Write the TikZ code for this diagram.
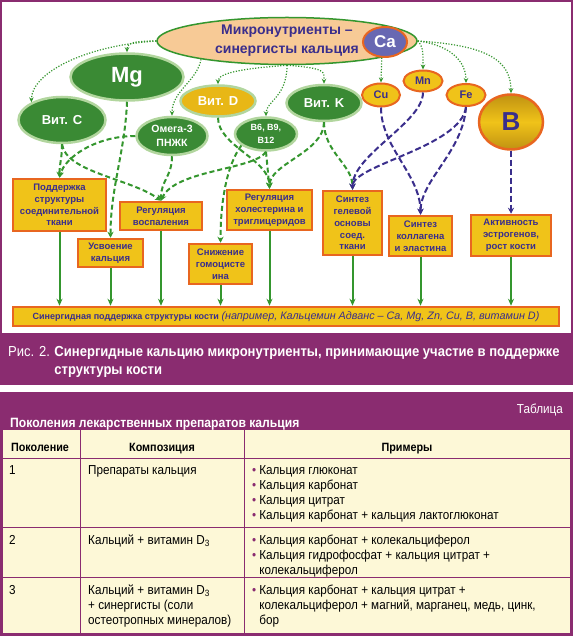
\documentclass[tikz,border=0pt]{standalone}
\usepackage{fontspec}
\setmainfont{Liberation Sans}
\newfontfamily\narrow{Liberation Sans}[FakeStretch=0.9]
\usetikzlibrary{shapes.geometric,arrows.meta}
\definecolor{frame}{RGB}{138,44,112}
\definecolor{ink}{RGB}{58,46,140}
\definecolor{vitgreen}{RGB}{58,138,52}
\definecolor{leaf}{RGB}{178,214,158}
\definecolor{linkgreen}{RGB}{52,150,46}
\definecolor{gold}{RGB}{240,195,25}
\definecolor{golddark}{RGB}{192,146,18}
\definecolor{vitdgold}{RGB}{232,183,22}
\definecolor{rim}{RGB}{232,102,32}
\definecolor{peach}{RGB}{247,202,150}
\definecolor{cablue}{RGB}{104,104,178}
\definecolor{tabbg}{RGB}{253,248,215}
\newcommand{\itm}{\textcolor{frame}{•}\hspace{3pt}}
\newcommand{\itmgap}{\phantom{•}\hspace{3pt}}
\begin{document}
\begin{tikzpicture}[x=1pt,y=-1pt,
	elem/.style={ellipse,draw=leaf,line width=2.5pt,fill=vitgreen,text=white,align=center,inner sep=0pt},
	metal/.style={ellipse,draw=rim,line width=2pt,fill=gold,text=ink,inner sep=0pt,font=\bfseries\fontsize{11}{13}\selectfont},
	effect/.style={rectangle,draw=rim,line width=2.5pt,fill=gold,text=ink,align=center,inner sep=0pt,font=\bfseries\fontsize{9.5}{11.8}\selectfont},
	dotarr/.style={draw=linkgreen,line width=1.2pt,dash pattern=on 1.2pt off 1.6pt,-{Stealth[length=5pt,width=4.5pt]}},
	gdash/.style={draw=linkgreen,line width=2pt,dash pattern=on 5pt off 3pt,-{Stealth[length=6pt,width=6pt]}},
	pdash/.style={draw=ink,line width=2pt,dash pattern=on 6pt off 3pt,-{Stealth[length=6pt,width=6pt]}},
	garr/.style={draw=linkgreen,line width=2pt,-{Stealth[length=7pt,width=6pt]}},
	cell/.style={anchor=base west,align=left,inner sep=0pt,text=black,font=\narrow\fontsize{13}{15}\selectfont},
	head/.style={anchor=base,inner sep=0pt,text=black,font=\narrow\bfseries\fontsize{12}{14}\selectfont}]
\useasboundingbox (0,0) rectangle (573,636);
\fill[frame] (0,0) rectangle (573,636);
\fill[white] (2,2) rectangle (571,333);
\fill[white] (0,385) rectangle (573,392);
\fill[tabbg] (3,430) rectangle (570,633);

\node[ellipse,draw=linkgreen,line width=1.5pt,fill=peach,text=ink,align=center,inner sep=0pt,
	font=\bfseries\fontsize{14}{19}\selectfont,minimum width=260,minimum height=47] (micro) at (287,41) {Микронутриенты –\\синергисты кальция};
\node[ellipse,draw=rim,line width=2pt,fill=cablue,text=white,inner sep=0pt,
	font=\bfseries\fontsize{17}{17}\selectfont,minimum width=44,minimum height=30] (ca) at (385,42) {Ca};
\node[elem,font=\bfseries\fontsize{22}{22}\selectfont,minimum width=113,minimum height=47] (mg) at (127,77) {Mg};
\node[elem,font=\bfseries\fontsize{13}{13}\selectfont,minimum width=87,minimum height=46] (vitc) at (62,120) {Вит. C};
\node[elem,font=\bfseries\fontsize{10.5}{14}\selectfont,minimum width=71,minimum height=38] (omega) at (172,136) {Омега-3\\ПНЖК};
\node[elem,fill=vitdgold,font=\bfseries\fontsize{13}{13}\selectfont,minimum width=75,minimum height=31] (vitd) at (218,101) {Вит. D};
\node[elem,font=\bfseries\fontsize{9}{13}\selectfont,minimum width=62,minimum height=33] (bvit) at (266,134) {B6, B9,\\B12};
\node[elem,font=\bfseries\fontsize{13}{13}\selectfont,minimum width=75,minimum height=36] (vitk) at (324,103) {Вит. K};
\node[metal,minimum width=38,minimum height=23] (cu) at (381,95) {Cu};
\node[metal,minimum width=39,minimum height=21] (mn) at (423,81) {Mn};
\node[metal,minimum width=39,minimum height=22] (fe) at (466,95) {Fe};
\node[metal,line width=2.5pt,top color=golddark,bottom color=golddark,middle color=gold,
	font=\bfseries\fontsize{26}{26}\selectfont,minimum width=64,minimum height=55] (boron) at (511,122) {B};

\node[effect,minimum width=93,minimum height=52] (tissue) at (59.5,205) {Поддержка\\структуры\\соединительной\\ткани};
\node[effect,minimum width=65,minimum height=28] (absorb) at (110.5,253) {Усвоение\\кальция};
\node[effect,minimum width=82,minimum height=28] (inflam) at (161,216) {Регуляция\\воспаления};
\node[effect,minimum width=63,minimum height=40] (homocys) at (220.5,264) {Снижение\\гомоцисте\\ина};
\node[effect,minimum width=85,minimum height=40] (chol) at (269.5,210) {Регуляция\\холестерина и\\триглицеридов};
\node[effect,minimum width=59,minimum height=64] (gel) at (352.5,223) {Синтез\\гелевой\\основы\\соед.\\ткани};
\node[effect,minimum width=63,minimum height=40] (collagen) at (420.5,236) {Синтез\\коллагена\\и эластина};
\node[effect,minimum width=80,minimum height=41] (estro) at (511,235.5) {Активность\\эстрогенов,\\рост кости};
\node[effect,font=\bfseries\fontsize{9}{11}\selectfont,minimum width=546,minimum height=19] (bone) at (286,316.5)
	{Синергидная поддержка структуры кости {\mdseries\itshape\fontsize{10.8}{11}\selectfont (например, Кальцемин Адванс – Ca, Mg, Zn, Cu, B, витамин D)}};

\draw[dotarr] (micro.west) .. controls +(-20,0) and +(0,-10) .. (mg.north);
\draw[dotarr] (micro.west) .. controls +(-75,5) and +(0,-28) .. (vitc.150);
\draw[dotarr] (micro.192) .. controls +(-4,22) and +(0,-25) .. (omega.north);
\draw[dotarr] (micro.south) .. controls +(-40,3) and +(0,-12) .. (vitd.north);
\draw[dotarr] (micro.south) .. controls +(40,3) and +(0,-12) .. (vitk.north);
\draw[dotarr] (micro.south) .. controls +(0,32) and +(0,-15) .. (bvit.north);
\draw[dotarr] (micro.350) -- (cu.north);
\draw[dotarr] (micro.east) .. controls +(6,6) and +(0,-14) .. (mn.north);
\draw[dotarr] (micro.east) .. controls +(32,4) and +(0,-22) .. (fe.north);
\draw[dotarr] (micro.east) .. controls +(65,4) and +(0,-35) .. (boron.north);

\draw[gdash] (vitc.south) .. controls +(0,15) and +(0,-15) .. (tissue.north);
\draw[gdash] (vitc.south) .. controls +(4,28) and +(-30,-22) .. (inflam.north);
\draw[gdash] (mg.south) .. controls +(-2,50) and +(0,-50) .. (absorb.north);
\draw[gdash] (omega.west) .. controls +(-40,0) and +(5,-20) .. (tissue.north);
\draw[gdash] (omega.south) .. controls +(0,20) and +(0,-20) .. (inflam.north);
\draw[gdash] (vitd.south) .. controls +(0,28) and +(0,-29) .. (chol.north);
\draw[gdash] (bvit.south) .. controls +(-11,18) and +(14,-31) .. (inflam.north);
\draw[gdash] (bvit.south) -- (chol.north);
\draw[gdash] (bvit.205) .. controls +(-15,20) and +(0,-40) .. (homocys.north);
\draw[gdash] (vitk.south) .. controls +(0,30) and +(0,-25) .. (chol.north);
\draw[gdash] (vitk.south) .. controls +(0,30) and +(0,-25) .. (gel.north);

\draw[pdash] (cu.south) .. controls +(0,40) and +(0,-40) .. (collagen.north);
\draw[pdash] (mn.south) .. controls +(0,30) and +(0,-35) .. (gel.north);
\draw[pdash] (fe.south) .. controls +(-5,40) and +(0,-25) .. (gel.north);
\draw[pdash] (fe.south) .. controls +(-3,45) and +(0,-35) .. (collagen.north);
\draw[pdash] (boron.south) -- (estro.north);

\foreach \b in {tissue,absorb,inflam,homocys,chol,gel,collagen,estro}
{
	\draw[garr] (\b.south) -- (\b.south |- bone.north);
}

\node[anchor=base west,inner sep=0pt,text=white,font=\narrow\fontsize{14.5}{18}\selectfont] (capnum) at (8,356) {Рис. 2.};
\node[anchor=base west,align=left,inner sep=0pt,text=white,font=\narrow\bfseries\fontsize{14.5}{18}\selectfont] (captext) at ([xshift=4pt,yshift=-18pt]capnum.base east)
	{Синергидные кальцию микронутриенты, принимающие участие в поддержке\\структуры кости};

\node[anchor=base east,inner sep=0pt,text=white,font=\narrow\fontsize{13}{15}\selectfont] (tabtag) at (563,413) {Таблица};
\node[anchor=base west,inner sep=0pt,text=white,font=\narrow\bfseries\fontsize{13.5}{15}\selectfont] (tabtitle) at (10,427) {Поколения лекарственных препаратов кальция};

\foreach \y in {458,527,577}
{
	\draw[frame,line width=1pt] (3,\y) -- (570,\y);
}
\foreach \x in {80,244}
{
	\draw[frame,line width=1pt] (\x,430) -- (\x,633);
}
\node[head] (hgen) at (40,451) {Поколение};
\node[head] (hcomp) at (162,451) {Композиция};
\node[head] (hex) at (407,451) {Примеры};

\node[cell] (gen1) at (9,474.5) {1};
\node[cell] (comp1) at (88,474.5) {Препараты кальция};
\node[cell] (ex1) at (252,519.5) {\itm Кальция глюконат\\\itm Кальция карбонат\\\itm Кальция цитрат\\\itm Кальция карбонат + кальция лактоглюконат};
\node[cell] (gen2) at (9,544.5) {2};
\node[cell] (comp2) at (88,544.5) {Кальций + витамин D\textsubscript{3}};
\node[cell] (ex2) at (252,574.5) {\itm Кальция карбонат + колекальциферол\\\itm Кальция гидрофосфат + кальция цитрат +\\\itmgap колекальциферол};
\node[cell] (gen3) at (9,594.5) {3};
\node[cell] (comp3) at (88,624.5) {Кальций + витамин D\textsubscript{3}\\+ синергисты (соли\\остеотропных минералов)};
\node[cell] (ex3) at (252,624.5) {\itm Кальция карбонат + кальция цитрат +\\\itmgap колекальциферол + магний, марганец, медь, цинк,\\\itmgap бор};
\end{tikzpicture}
\end{document}
